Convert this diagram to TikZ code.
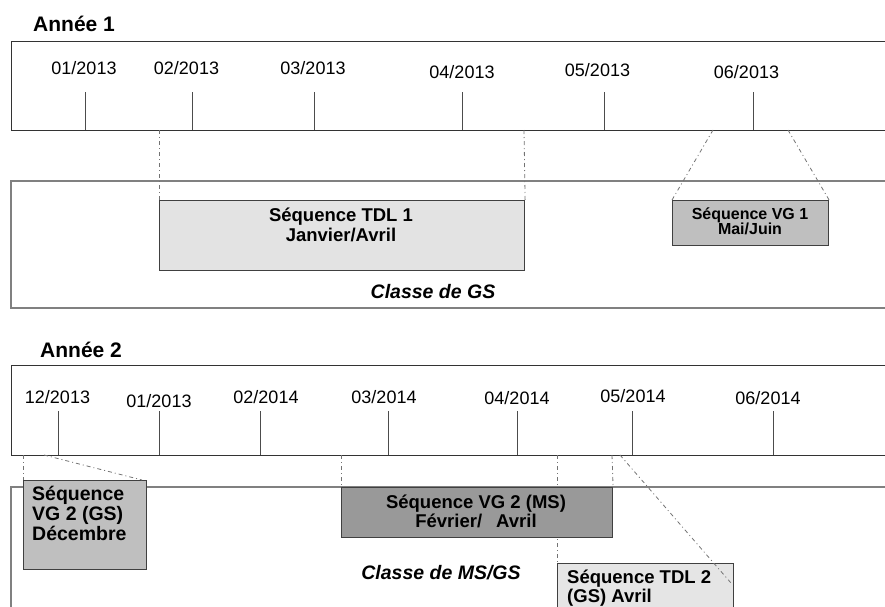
\documentclass[tikz,border=0pt]{standalone}
\usepackage{fontspec}
\setmainfont{Liberation Sans}
\begin{document}
\begin{tikzpicture}[x=1pt,y=-1pt,
  frame/.style={draw=black!80, line width=1pt},
  cframe/.style={draw=black!50, line width=1.3pt},
  tickln/.style={draw=black!70, line width=0.9pt},
  seqbox/.style={draw=black!75, line width=1.1pt, inner sep=0pt, anchor=north west},
  link/.style={draw=black!55, line width=0.8pt, dash pattern=on 4pt off 3pt on 1pt off 3pt},
  datelbl/.style={font=\fontsize{18}{20}\selectfont, anchor=base, inner sep=0pt},
  seqtxt/.style={font=\bfseries\fontsize{18.5}{20}\selectfont, inner sep=0pt},
  gstxt/.style={font=\bfseries\fontsize{19.5}{20}\selectfont, inner sep=0pt, anchor=base west},
  smalltxt/.style={font=\bfseries\fontsize{16}{16}\selectfont, inner sep=0pt, anchor=base},
  titletxt/.style={font=\bfseries\fontsize{21}{24}\selectfont, anchor=base west, inner sep=0pt},
  classetxt/.style={font=\bfseries\itshape\fontsize{19.5}{22}\selectfont, anchor=base, inner sep=0pt}]

\useasboundingbox (0,0) rectangle (885,606);

% ---------------- Year 1 ----------------
\node[titletxt] (an1) at (33,31) {Année 1};
\draw[frame] (886,41) -- (11,41) -- (11,130) -- (886,130);
\foreach \x in {85,192,314,462.5,604.5,753}{
  \draw[tickln] (\x,92) -- (\x,130);
}
\node[datelbl] (d101) at (84,74) {01/2013};
\node[datelbl] (d102) at (186.5,74) {02/2013};
\node[datelbl] (d103) at (313,74) {03/2013};
\node[datelbl] (d104) at (462,78) {04/2013};
\node[datelbl] (d105) at (597.5,76.5) {05/2013};
\node[datelbl] (d106) at (746.5,78.5) {06/2013};

\draw[cframe] (886,181) -- (11,181) -- (11,308) -- (886,308);

\coordinate (t1a) at (159,130);
\coordinate (t1b) at (524,130);
\coordinate (t1c) at (713,130);
\coordinate (t1d) at (788,130);

\node[seqbox, fill=black!11, minimum width=365pt, minimum height=70pt] (tdl1) at (159,200) {};
\node[seqbox, fill=black!25, minimum width=156pt, minimum height=45pt] (vg1) at (672,200) {};

\draw[link] (t1a) -- (tdl1.north west);
\draw[link] (t1b) -- (tdl1.north east);
\draw[link] (t1c) -- (vg1.north west);
\draw[link] (t1d) -- (vg1.north east);

\node[seqtxt, anchor=base] (tdl1a) at (341,221.5) {Séquence TDL 1};
\node[seqtxt, anchor=base] (tdl1b) at (341,241.5) {Janvier/Avril};
\node[smalltxt] (vg1a) at (750,219) {Séquence VG 1};
\node[smalltxt] (vg1b) at (750,234.5) {Mai/Juin};
\node[classetxt] (cl1) at (433,298) {Classe de GS};

% ---------------- Year 2 ----------------
\node[titletxt] (an2) at (40,357) {Année 2};
\draw[frame] (886,365) -- (11,365) -- (11,455) -- (886,455);
\foreach \x in {58,159,260,388,517,632,773}{
  \draw[tickln] (\x,411) -- (\x,455);
}
\node[datelbl] (d212) at (57.5,403) {12/2013};
\node[datelbl] (d201) at (159,407) {01/2013};
\node[datelbl] (d202) at (266,403) {02/2014};
\node[datelbl] (d203) at (384,403) {03/2014};
\node[datelbl] (d204) at (517,404) {04/2014};
\node[datelbl] (d205) at (633,402) {05/2014};
\node[datelbl] (d206) at (768,404) {06/2014};

\draw[cframe] (886,487) -- (11,487) -- (11,610);

\coordinate (t2a) at (23,455);
\coordinate (t2b) at (44,455);
\coordinate (t2c) at (341,455);
\coordinate (t2d) at (557,455);
\coordinate (t2e) at (612,455);
\coordinate (t2f) at (620,455);
\coordinate (t2g) at (731,583);

\draw[link] (t2d) -- (557,563);

\node[seqbox, fill=black!25, minimum width=123pt, minimum height=89pt] (vg2gs) at (23,480) {};
\node[seqbox, fill=black!40, minimum width=271pt, minimum height=50pt] (vg2ms) at (341,487) {};
\node[seqbox, fill=black!10, minimum width=176pt, minimum height=60pt] (tdl2) at (557,563) {};

\draw[link] (t2a) -- (vg2gs.north west);
\draw[link] (t2b) -- ([xshift=-5pt]vg2gs.north east);
\draw[link] (t2c) -- (vg2ms.north west);
\draw[link] (t2e) -- (vg2ms.north east);
\draw[link] (t2f) -- (t2g);

\node[gstxt] (vg2gsa) at (32,500) {Séquence};
\node[gstxt] (vg2gsb) at (32,520) {VG 2 (GS)};
\node[gstxt] (vg2gsc) at (32,540) {Décembre};

\node[seqtxt, anchor=base] (vg2msa) at (476,508) {Séquence VG 2 (MS)};
\node[seqtxt, anchor=base] (vg2msb) at (476,527) {Février/\hspace{14pt}Avril};

\node[seqtxt, anchor=base west] (tdl2a) at (567,583) {Séquence TDL 2};
\node[seqtxt, anchor=base west] (tdl2b) at (567,602) {(GS) Avril};

\node[classetxt] (cl2) at (441,579) {Classe de MS/GS};
\end{tikzpicture}
\end{document}
